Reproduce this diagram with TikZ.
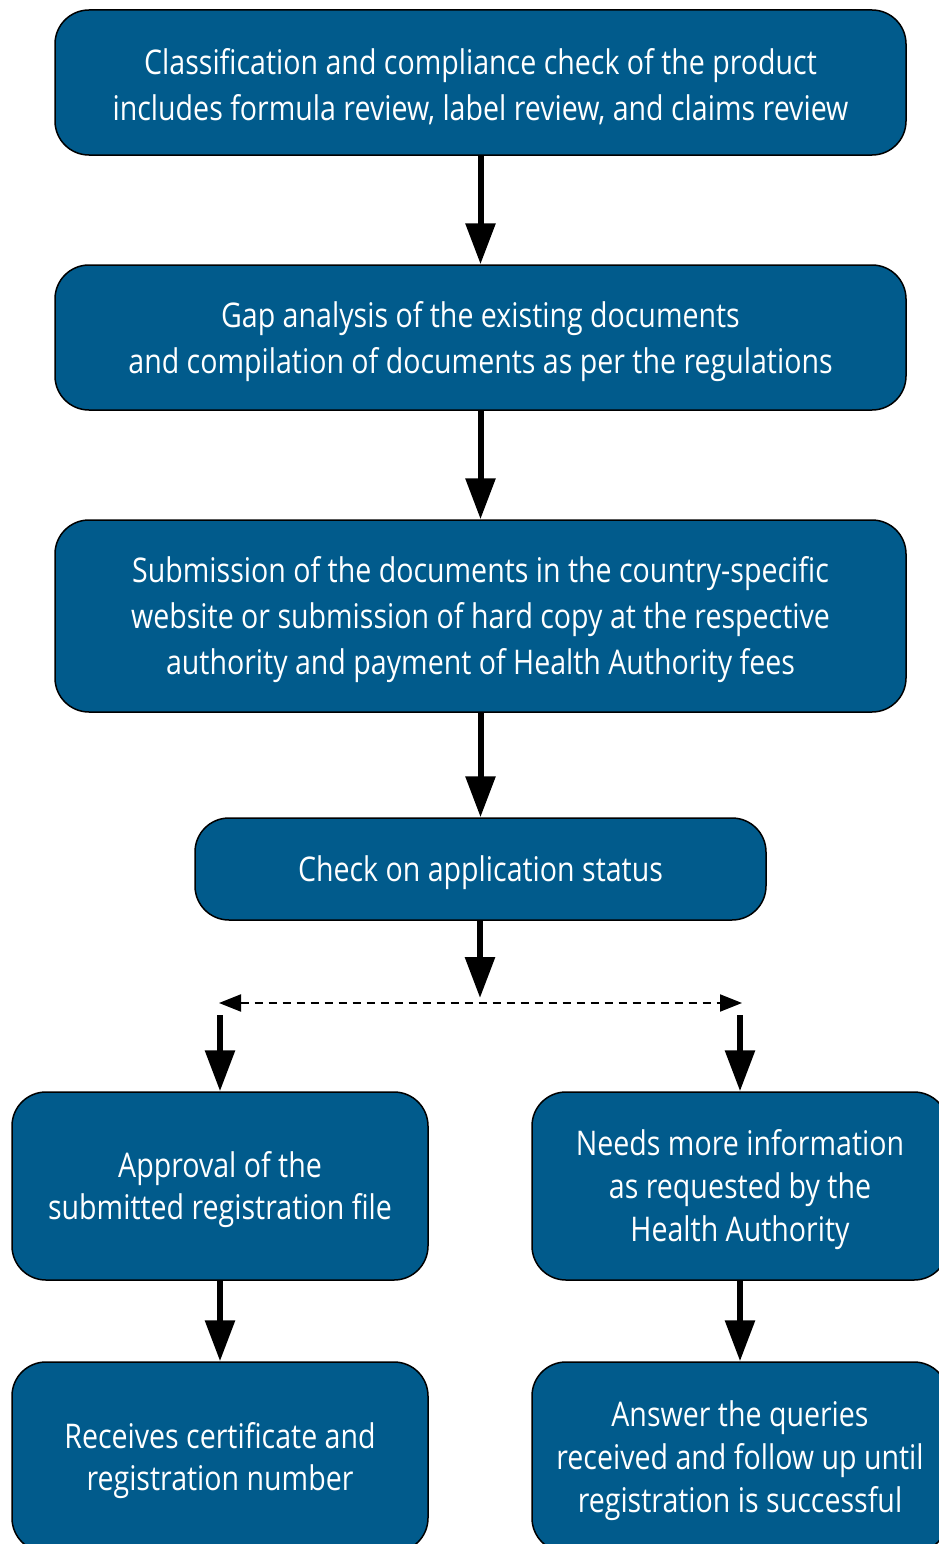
\documentclass[tikz,border=0pt]{standalone}
\usepackage{fontspec}
\setmainfont{Open Sans}[FakeStretch=0.84]
\usetikzlibrary{arrows.meta}
\definecolor{boxblue}{HTML}{015B8C}
\newcommand{\lowr}[1]{\raisebox{-4pt}[\height][\depth]{#1}}
\tikzset{
  stepbox/.style={draw=black, line width=1.5pt, fill=boxblue, rounded corners=34pt,
    text=white, align=center, inner sep=0pt, font=\fontsize{34}{46}\selectfont},
  arr/.style={line width=6pt, -{Triangle[length=41pt,width=29pt]}},
  dasharr/.style={line width=2pt, dash pattern=on 8pt off 6pt, {Triangle[length=22pt,width=17pt]}-{Triangle[length=22pt,width=17pt]}}
}
\begin{document}
\begin{tikzpicture}[x=1pt,y=-1pt]
\clip (0,0) rectangle (939,1544);
\useasboundingbox (0,0) rectangle (939,1544);
\node[stepbox, minimum width=851pt, minimum height=145pt] (b1) at (480.5,82.5)
  {\lowr{Classification and compliance check of the product}\\\lowr{includes formula review, label review, and claims review}};
\node[stepbox, minimum width=851pt, minimum height=145pt] (b2) at (480.5,337.5)
  {\lowr{Gap analysis of the existing documents}\\\lowr{and compilation of documents as per the regulations}};
\node[stepbox, minimum width=851pt, minimum height=192pt] (b3) at (480.5,616)
  {\lowr{Submission of the documents in the country-specific}\\\lowr{website or submission of hard copy at the respective}\\\lowr{authority and payment of Health Authority fees}};
\node[stepbox, minimum width=571pt, minimum height=102pt] (b4) at (480.5,869)
  {\lowr{Check on application status}};
\node[stepbox, minimum width=416pt, minimum height=188pt, font=\fontsize{34}{42}\selectfont] (b5) at (220,1186)
  {\lowr{Approval of the}\\\lowr{submitted registration file}};
\node[stepbox, minimum width=416pt, minimum height=188pt, font=\fontsize{34}{43}\selectfont] (b6) at (740,1186)
  {\lowr{Needs more information}\\\lowr{as requested by the}\\\lowr{Health Authority}};
\node[stepbox, minimum width=416pt, minimum height=190pt, font=\fontsize{34}{42}\selectfont] (b7) at (220,1457)
  {\lowr{Receives certificate and}\\\lowr{registration number}};
\node[stepbox, minimum width=416pt, minimum height=190pt, font=\fontsize{34}{43}\selectfont] (b8) at (740,1457)
  {\lowr{Answer the queries}\\\lowr{received and follow up until}\\\lowr{registration is successful}};
\coordinate (split) at (480,998);
\coordinate (dl) at (219,1003);
\coordinate (dr) at (742,1003);
\coordinate (sl) at (220,1015);
\coordinate (sr) at (740,1015);
\draw[arr] (b1) -- (b2);
\draw[arr] (b2) -- (b3);
\draw[arr] (b3) -- (b4);
\draw[arr] (b4.south -| split) -- (split);
\draw[dasharr] (dl) -- (dr);
\draw[arr] (sl) -- (b5);
\draw[arr] (sr) -- (b6);
\draw[arr] (b5) -- (b7);
\draw[arr] (b6) -- (b8);
\end{tikzpicture}
\end{document}
